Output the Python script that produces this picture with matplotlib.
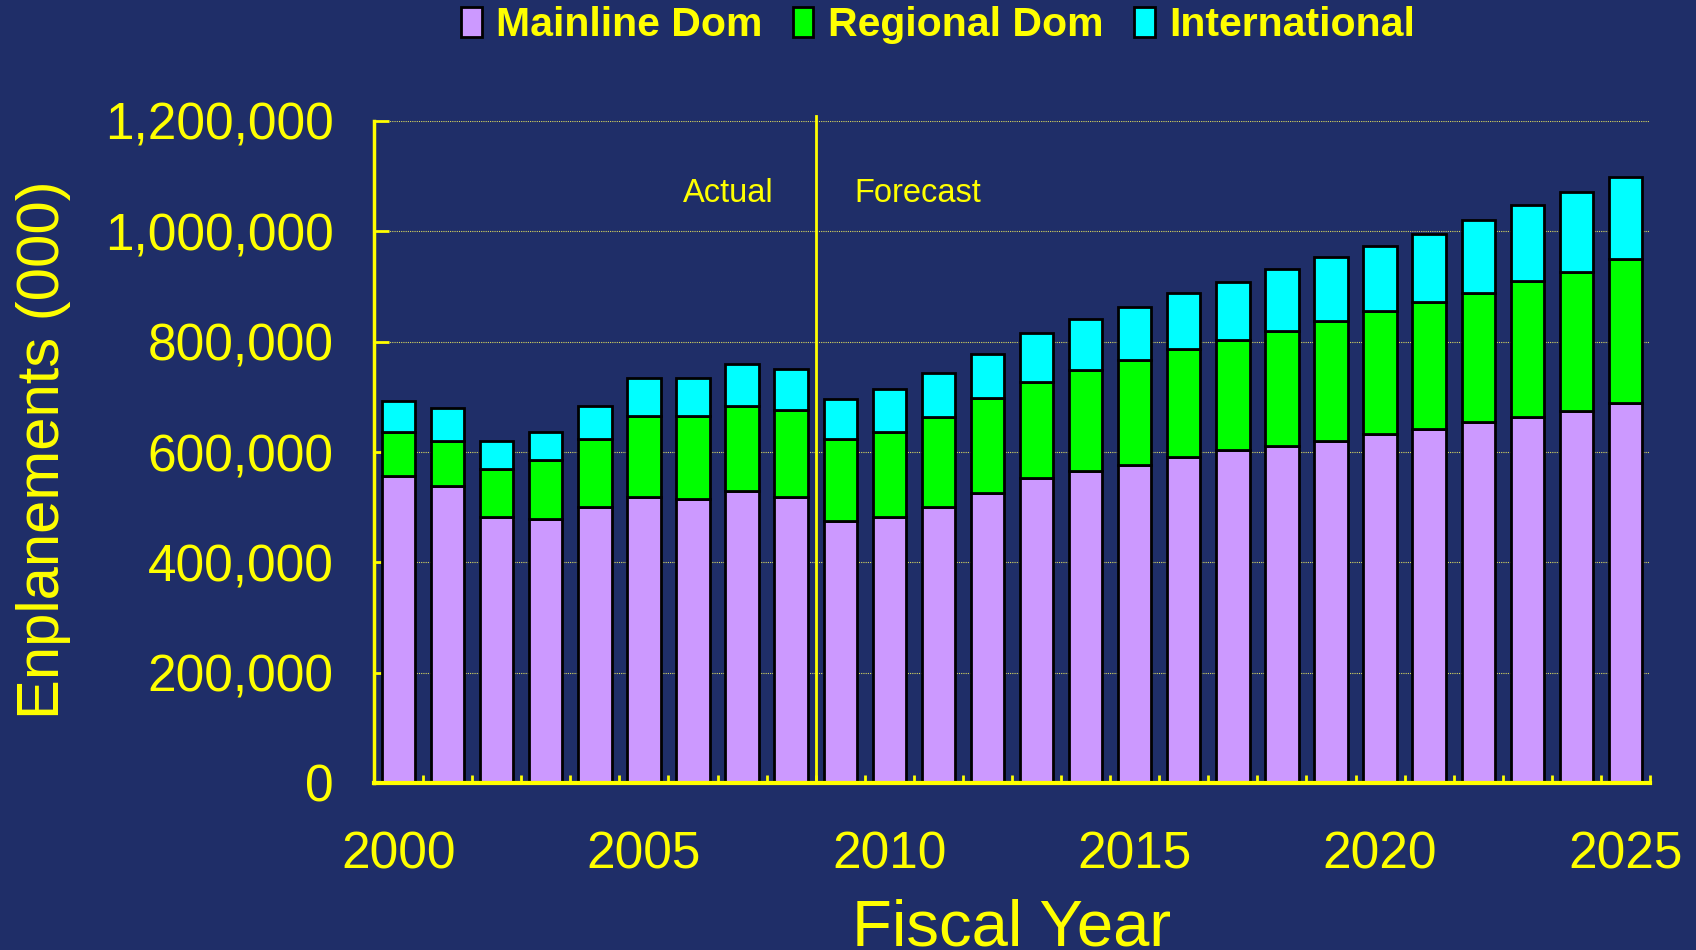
import numpy as np
import matplotlib
matplotlib.use("Agg")
from matplotlib import pyplot as plt
from matplotlib.patches import Patch
from matplotlib.ticker import FuncFormatter, FixedLocator

# data (thousands of enplanements)
years = list(range(2000, 2026))
total = [692, 680, 620, 636, 683, 734, 734, 760, 751, 696, 714, 743, 777,
         816, 841, 863, 888, 909, 931, 953, 974, 996, 1021, 1047, 1072, 1098]
dom_top = [637, 620, 569, 585, 624, 666, 666, 683, 676, 624, 637, 664, 697,
           726, 748, 766, 787, 803, 820, 837, 855, 872, 889, 910, 927, 949]
mainline = [556, 538, 483, 479, 501, 518, 514, 530, 518, 475, 483, 501, 526,
            552, 565, 577, 591, 603, 611, 620, 632, 641, 654, 663, 675, 688]
regional = [d - m for d, m in zip(dom_top, mainline)]
intl = [t - d for t, d in zip(total, dom_top)]
# scale to actual units (000)
mainline = np.array(mainline) * 1000
regional = np.array(regional) * 1000
intl = np.array(intl) * 1000

bg = '#1f2e68'
yel = '#ffff00'
c_main = '#cc99ff'
c_reg = '#00ff00'
c_int = '#00ffff'

plt.rcParams['font.family'] = ['Liberation Sans', 'DejaVu Sans']

fig = plt.figure(figsize=(16.96, 9.5), dpi=100, facecolor=bg)
ax = fig.add_axes([374/1696, 1 - 783/950, 1276/1696, 662/950])
ax.set_facecolor(bg)

x = np.arange(len(years))
w = 0.68
ax.bar(x, mainline, w, color=c_main, edgecolor='black', linewidth=2, zorder=3)
ax.bar(x, regional, w, bottom=mainline, color=c_reg, edgecolor='black', linewidth=2, zorder=3)
ax.bar(x, intl, w, bottom=mainline + regional, color=c_int, edgecolor='black', linewidth=2, zorder=3)

ax.set_xlim(-0.5, len(years) - 0.5)
ax.set_ylim(0, 1200000)

# y axis
ax.set_yticks(np.arange(0, 1200001, 200000))
ax.yaxis.set_major_formatter(FuncFormatter(lambda v, p: '{:,.0f}'.format(v)))
ax.tick_params(axis='y', direction='in', length=11, width=2, color=yel,
               labelcolor=yel, labelsize=37, pad=29)
ax.grid(axis='y', color='#d8d860', linestyle=(0, (1, 1)), linewidth=0.8, zorder=1)

# x axis: ticks between bars, labels every 5 years
ax.xaxis.set_minor_locator(FixedLocator(np.arange(-0.5, len(years), 1)))
ax.set_xticks(x[::5])
ax.set_xticklabels([str(y) for y in years[::5]])
ax.tick_params(axis='x', which='major', length=0, labelcolor=yel, labelsize=37, pad=34)
ax.tick_params(axis='x', which='minor', direction='in', length=6, width=2, color=yel)

for s in ['top', 'right']:
    ax.spines[s].set_visible(False)
ax.spines['left'].set_color(yel)
ax.spines['left'].set_linewidth(2.5)
ax.spines['bottom'].set_color(yel)
ax.spines['bottom'].set_linewidth(3)
ax.spines['left'].set_zorder(4)
ax.spines['bottom'].set_zorder(4)

ax.set_ylabel('Enplanements (000)', color=yel, fontsize=43)
ax.yaxis.set_label_coords(-0.2375, 0.503)
ax.set_xlabel('Fiscal Year', color=yel, fontsize=47)
ax.xaxis.set_label_coords(0.5, -0.174)

# actual / forecast divider
ax.axvline(8.5, ymin=0, ymax=1.007, color=yel, linewidth=2, clip_on=False, zorder=4)
ax.text(7.64, 1068000, 'Actual', color=yel, fontsize=23.5, ha='right', va='center')
ax.text(9.29, 1068000, 'Forecast', color=yel, fontsize=23.5, ha='left', va='center')

handles = [Patch(facecolor=c_main, edgecolor='black', linewidth=2),
           Patch(facecolor=c_reg, edgecolor='black', linewidth=2),
           Patch(facecolor=c_int, edgecolor='black', linewidth=2)]
leg = fig.legend(handles, ['Mainline Dom', 'Regional Dom', 'International'],
                 loc='center', bbox_to_anchor=(0.553, 1 - 25/950), ncol=3,
                 frameon=False, handlelength=0.5, handleheight=0.75,
                 handletextpad=0.35, columnspacing=0.75,
                 prop={'weight': 'bold', 'size': 29.5})
for t in leg.get_texts():
    t.set_color(yel)

fig.savefig('out.png', dpi=100, facecolor=bg)
